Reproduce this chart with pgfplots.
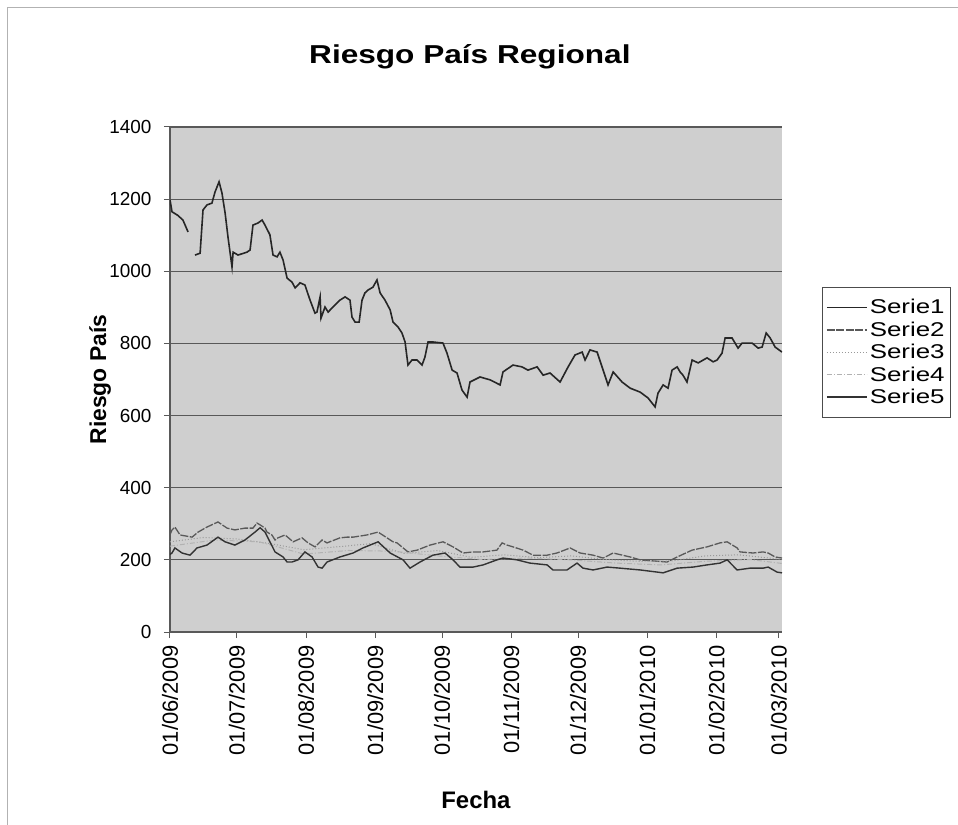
\documentclass[border=0pt]{standalone}
\usepackage{pgfplots}
\pgfplotsset{compat=1.18}
\usepackage{fontspec}
\setmainfont{Liberation Sans}
\definecolor{plotbg}{gray}{0.81}
\definecolor{gridc}{gray}{0.35}
\begin{document}
\begin{tikzpicture}[x=1bp,y=1bp]
\fill[white] (-170bp,-193bp) rectangle (788bp,632bp);
\draw[gray!60, line width=1bp] (-162bp,-193bp) -- (-162bp,624bp) -- (788bp,624bp);
\begin{axis}[
  at={(0,0)}, anchor=origin,
  scale only axis, width=612bp, height=505bp,
  xmin=0, xmax=274.4, ymin=0, ymax=1400,
  unbounded coords=jump,
  axis background/.style={fill=plotbg},
  axis line style={gridc, line width=1.2bp},
  axis x line*=bottom, axis y line*=left,
  ytick={0,200,...,1400},
  ymajorgrids, grid style={gridc, line width=1.2bp},
  xtick={0,30,61,92,122,153,183,214,245,273},
  xticklabels={01/06/2009,01/07/2009,01/08/2009,01/09/2009,01/10/2009,01/11/2009,01/12/2009,01/01/2010,01/02/2010,01/03/2010},
  x tick label style={rotate=90, anchor=east, font=\fontsize{22}{24}\selectfont, xshift=-4bp},
  y tick label style={font=\fontsize{19}{22}\selectfont, xshift=-9bp},
  tick style={gridc, line width=1bp},
  tick align=outside, major tick length=6bp,
  /pgf/number format/assume math mode=true,
  scaled y ticks=false,
  y tick label style={/pgf/number format/1000 sep={}},
  ylabel={\textbf{Riesgo País}}, ylabel style={font=\fontsize{23}{26}\selectfont, at={(axis description cs:-0.114,0.5)}, anchor=center},
  xlabel={\textbf{Fecha}}, xlabel style={font=\fontsize{24}{27}\selectfont, at={(axis description cs:0.5,0)}, anchor=center, yshift=-168bp},
  title={\scalebox{1.22}[1]{\textbf{Riesgo País Regional}}}, title style={font=\fontsize{26}{30}\selectfont, at={(axis description cs:0.49,1)}, anchor=center, yshift=64bp},
  legend style={at={(1.065,0.683)}, anchor=north west, draw=black!70, line width=0.8bp, fill=white, font=\fontsize{20}{23}\selectfont, row sep=2.5bp, inner xsep=4bp, inner ysep=10bp, /tikz/every even column/.append style={column sep=3bp}},
  legend cell align=left,
  legend image code/.code={\draw[#1] (0bp,0bp) -- (40bp,0bp);},
  clip=true,
]
% Serie1
\addplot[black!85, line width=1.6bp] coordinates {
(0,1198)(0.9,1165)(3.5,1155)(5.8,1142)(8.1,1109)(9.5,nan)
(11.2,1045)(13.5,1050)(14.8,1170)(16.6,1184)(18.8,1189)(20.2,1220)(22.0,1248)(23.3,1217)(24.7,1162)(26.0,1095)(27.8,1012)(28.3,1053)(30.5,1045)(34.5,1053)(35.9,1059)(37.2,1128)(39.5,1134)(41.3,1142)(42.6,1128)(44.8,1101)(46.2,1045)(48.0,1040)(49.3,1053)(50.7,1031)(52.5,981)(54.7,970)(56.1,954)(58.3,968)(60.5,962)(62.8,920)(65.0,884)(65.9,887)(67.3,929)(67.7,870)(69.5,901)(70.9,887)(73.1,901)(76.2,920)(78.5,929)(80.7,920)(81.6,873)(83.0,859)(84.8,859)(86.1,920)(87.4,940)(88.8,948)(91.0,956)(92.8,976)(94.2,940)(96.4,920)(98.7,893)(100.0,859)(102.2,846)(104.0,829)(105.4,804)(106.7,740)(108.5,754)(110.8,754)(113.0,740)(114.3,762)(115.7,804)(117.9,804)(122.4,801)(124.2,773)(126.5,726)(128.7,718)(130.9,671)(133.2,651)(134.5,693)(139.0,707)(143.5,699)(148.0,685)(149.3,721)(153.8,740)(157.8,735)(160.5,726)(164.6,735)(167.3,712)(170.4,718)(174.9,693)(178.5,735)(181.6,768)(184.8,776)(186.1,754)(188.3,782)(191.5,776)(194.2,726)(196.4,685)(198.7,721)(202.7,693)(206.3,676)(210.8,665)(214.3,649)(217.5,624)(218.8,662)(221.1,685)(223.3,676)(225.1,726)(227.4,735)(228.7,721)(230.0,712)(231.8,693)(234.1,754)(236.8,746)(240.8,760)(243.5,749)(245.3,754)(247.5,773)(248.9,815)(252.0,815)(254.7,787)(256.5,801)(261.0,801)(263.7,787)(265.5,790)(267.3,829)(269.1,815)(271.3,790)(274.4,776)
};
\addlegendentry{\scalebox{1.3}[1]{Serie1}}
% Serie2
\addplot[black!65, line width=1.3bp, dash pattern=on 8bp off 1.5bp] coordinates {
(0,270)(0.9,283)(2.2,291)(4.5,269)(9.9,263)(12.6,277)(16.6,291)(21.5,305)(25.6,288)(29.1,283)(33.6,288)(37.2,288)(39.0,302)(40.4,297)(42.6,288)(43.5,277)(45.7,269)(47.1,255)(48.4,261)(51.6,269)(55.2,250)(59.2,261)(61.9,247)(65.0,236)(68.2,255)(70.4,247)(76.2,261)(79.4,263)(82.1,263)(88.3,269)(93.3,277)(97.3,261)(100.0,250)(101.8,247)(106.7,222)(110.8,227)(116.6,241)(122.4,250)(126.9,236)(131.4,219)(135.9,222)(140.4,222)(146.6,227)(148.9,247)(151.1,241)(153.8,236)(158.3,227)(162.8,213)(169.1,213)(173.5,219)(179.4,233)(183.9,219)(189.7,213)(194.2,205)(198.7,219)(206.3,208)(210.8,200)(222.9,194)(227.4,208)(234.1,227)(240.8,236)(246.6,247)(249.8,250)(254.3,233)(255.6,222)(261.4,219)(265.9,222)(268.2,219)(271.3,208)(274.4,205)
};
\addlegendentry{\scalebox{1.3}[1]{Serie2}}
% Serie3
\addplot[black!40, line width=1bp, dotted] coordinates {
(0,250)(15,262)(30,258)(45,245)(60,228)(75,236)(90,245)(105,218)(120,226)(135,207)(150,214)(165,206)(180,211)(195,201)(210,196)(225,197)(240,211)(255,214)(274.4,201)
};
\addlegendentry{\scalebox{1.3}[1]{Serie3}}
% Serie4
\addplot[black!30, line width=1bp, dash pattern=on 5bp off 2bp on 1bp off 2bp] coordinates {
(0,238)(20,255)(40,250)(60,216)(80,226)(100,224)(120,211)(140,201)(160,205)(180,200)(200,191)(220,186)(240,196)(260,201)(274.4,190)
};
\addlegendentry{\scalebox{1.3}[1]{Serie4}}
% Serie5
\addplot[black!80, line width=1.4bp] coordinates {
(0,215)(0.9,219)(2.2,233)(5.4,219)(9.0,213)(12.1,233)(16.6,241)(21.5,263)(24.7,250)(29.1,241)(33.6,255)(38.1,277)(40.4,289)(42.6,277)(44.8,250)(47.1,222)(50.7,208)(52.5,194)(54.7,194)(57.4,200)(60.5,222)(63.7,208)(66.4,180)(68.2,177)(70.4,194)(76.2,208)(82.1,219)(86.5,233)(93.3,250)(98.7,219)(104.5,200)(107.6,177)(112.1,194)(117.9,213)(123.3,219)(126.9,200)(130.0,180)(135.9,180)(140.4,186)(146.6,200)(149.3,205)(155.6,200)(161.4,191)(169.1,186)(171.7,172)(178.0,172)(182.5,191)(185.2,177)(189.7,172)(196.0,180)(201.8,177)(210.8,172)(221.1,164)(227.4,177)(234.5,180)(240.8,186)(246.6,191)(249.8,200)(254.3,172)(260.1,177)(265.9,177)(268.2,180)(272.2,166)(274.4,164)
};
\addlegendentry{\scalebox{1.3}[1]{Serie5}}
\end{axis}
\pgfresetboundingbox
\useasboundingbox (-170bp,-193bp) rectangle (788bp,632bp);
\end{tikzpicture}
\end{document}
